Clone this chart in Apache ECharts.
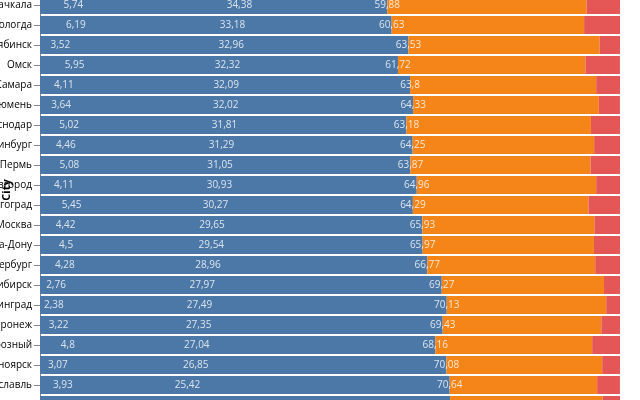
<!DOCTYPE html>
<html>
<head>
<meta charset="utf-8">
<script src="https://cdn.jsdelivr.net/npm/echarts@6/dist/echarts.min.js"></script>
<style>
  html, body { margin: 0; padding: 0; background: #fff; }
  #chart { width: 640px; height: 400px; }
</style>
</head>
<body>
<div id="chart"></div>
<script>
// cities, top to bottom (the last row is only partly in view)
var cities = [
	'Махачкала', 'Вологда', 'Челябинск', 'Омск', 'Самара', 'Тюмень', 'Краснодар',
	'Екатеринбург', 'Пермь', 'Нижний Новгород', 'Волгоград', 'Москва', 'Ростов-на-Дону',
	'Санкт-Петербург', 'Новосибирск', 'Калининград', 'Воронеж', 'Грозный', 'Красноярск',
	'Ярославль', 'Иркутск'
];
// blue segment (first in the stack)
var valuesC = [59.88, 60.63, 63.53, 61.72, 63.8, 64.33, 63.18, 64.25, 63.87, 64.96, 64.29,
	65.93, 65.97, 66.77, 69.27, 70.13, 69.43, 68.16, 70.08, 70.64, 70.7];
// orange segment
var valuesB = [34.38, 33.18, 32.96, 32.32, 32.09, 32.02, 31.81, 31.29, 31.05, 30.93, 30.27,
	29.65, 29.54, 28.96, 27.97, 27.49, 27.35, 27.04, 26.85, 25.42, 26.3];
// red segment
var valuesA = [5.74, 6.19, 3.52, 5.95, 4.11, 3.64, 5.02, 4.46, 5.08, 4.11, 5.45,
	4.42, 4.5, 4.28, 2.76, 2.38, 3.22, 4.8, 3.07, 3.93, 3.0];

var colors = ['#4c78a8', '#f58518', '#e45756'];
var font = 'Open Sans';

function fmt(v) {
	return String(v).replace('.', ',');
}

// text marks sit at the raw value, not at the stacked position
function labelSeries(values) {
	return {
		type: 'scatter',
		symbolSize: 1,
		itemStyle: { color: 'transparent' },
		silent: true,
		z: 5,
		data: values.map(function (v, i) { return [v, i]; }),
		label: {
			show: true,
			position: 'inside',
			color: '#fff',
			fontFamily: font,
			fontSize: 10,
			formatter: function (p) { return fmt(p.value[0]); }
		}
	};
}

function barSeries(values, color) {
	return {
		type: 'bar',
		stack: 'total',
		barCategoryGap: '10%',
		itemStyle: { color: color },
		data: values
	};
}

var myChart = echarts.init(document.getElementById('chart'), null, { renderer: 'canvas' });
var option = {
	animation: false,
	grid: {
		left: 40, right: 20, top: -5, height: 420,
		containLabel: false,
		outerBoundsMode: 'none'
	},
	xAxis: {
		type: 'value',
		min: 0,
		max: 100,
		show: false
	},
	yAxis: {
		type: 'category',
		inverse: true,
		data: cities,
		name: 'City',
		nameLocation: 'middle',
		nameGap: 28,
		nameMoveOverlap: false,
		nameTextStyle: {
			fontFamily: font, fontSize: 11, fontWeight: 'bold', color: '#000',
			padding: [0, 0, 0, 30]
		},
		axisLine: { show: true, lineStyle: { color: '#888' } },
		axisTick: { show: true, alignWithLabel: true, length: 6, lineStyle: { color: '#888' } },
		axisLabel: { fontFamily: font, fontSize: 10, color: '#000', margin: 8 }
	},
	series: [
		barSeries(valuesC, colors[0]),
		barSeries(valuesB, colors[1]),
		barSeries(valuesA, colors[2]),
		labelSeries(valuesA),
		labelSeries(valuesB),
		labelSeries(valuesC)
	]
};
option && myChart.setOption(option);
</script>
</body>
</html>
